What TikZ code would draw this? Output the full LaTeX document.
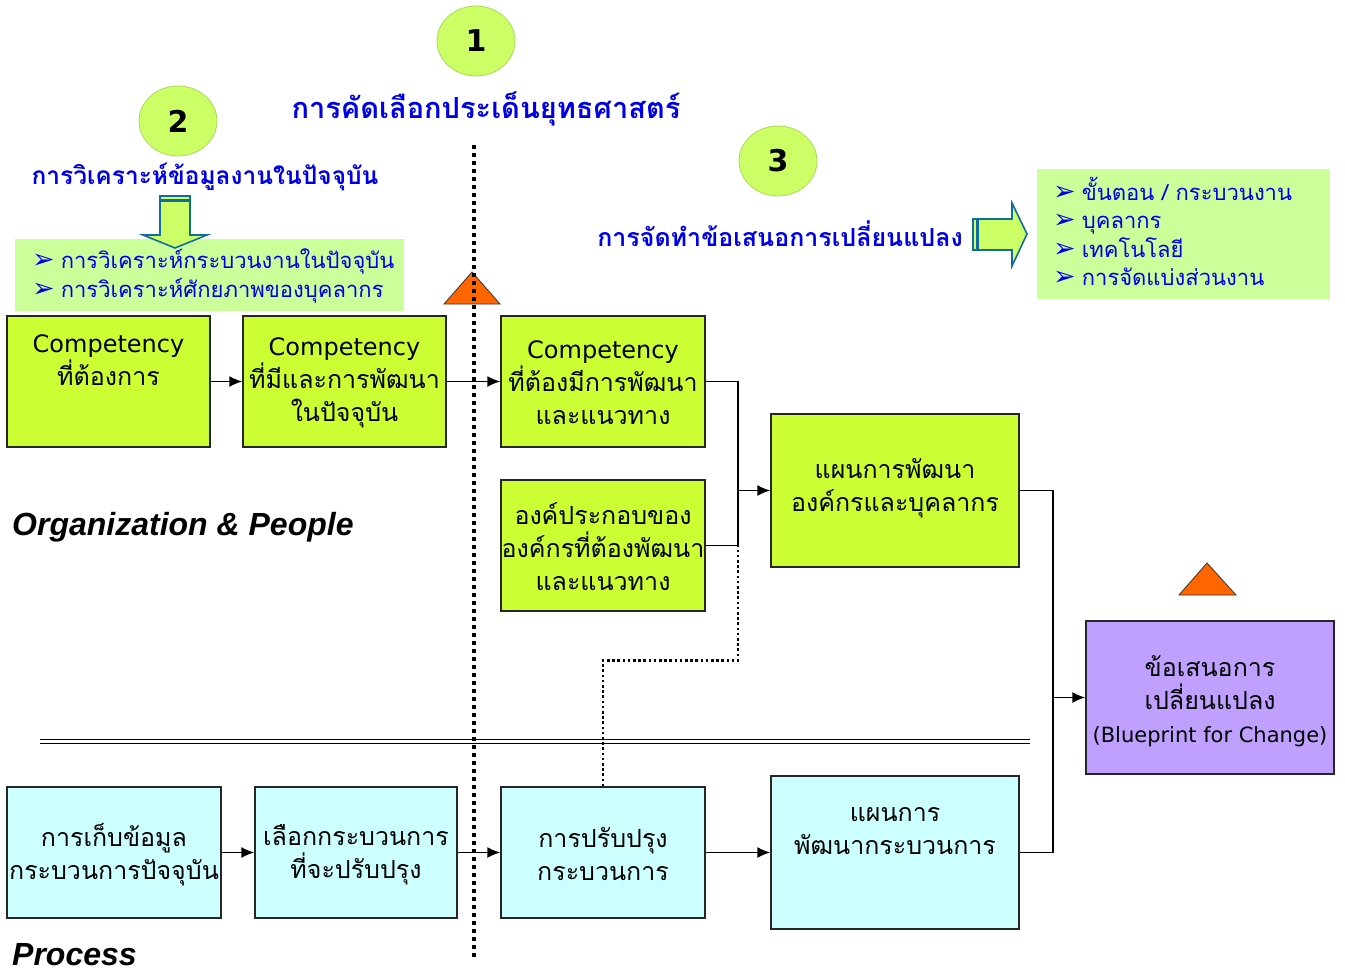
\documentclass[tikz,border=0pt]{standalone}
\usepackage{fontspec}
\usetikzlibrary{arrows.meta,shapes.geometric}
\setmainfont{DejaVu Sans}
\newfontfamily\thai[Script=Thai]{Loma}
\newfontfamily\dv{DejaVu Sans}
\newfontfamily\lib{Liberation Sans}
\definecolor{boxgreen}{HTML}{CCFF33}
\definecolor{lightgreen}{HTML}{CCFF99}
\definecolor{circgreen}{HTML}{CCFF66}
\definecolor{boxcyan}{HTML}{CCFFFF}
\definecolor{boxpurple}{HTML}{BFA0FF}
\definecolor{titleblue}{HTML}{0000E6}
\definecolor{arrowedge}{HTML}{0F6E9E}
\definecolor{triorange}{HTML}{FF6600}
\newcommand{\bul}{{\dv\fontsize{27}{27}\selectfont ➢}\hspace{6pt}}
\begin{document}
\begin{tikzpicture}[x=1pt,y=-1pt,
  stagebox/.style={draw=black!85, line width=1.4pt, inner sep=0pt},
  gbox/.style={stagebox, fill=boxgreen},
  cbox/.style={stagebox, fill=boxcyan},
  pbox/.style={stagebox, fill=boxpurple},
  lbox/.style={fill=lightgreen, inner sep=0pt},
  btext/.style={align=center, inner sep=0pt, font=\thai\fontsize{25}{33}\selectfont},
  num/.style={ellipse, fill=circgreen, draw=circgreen!85!black, line width=0.8pt,
    minimum width=78pt, minimum height=70pt, inner sep=0pt,
    font=\dv\bfseries\fontsize{30}{30}\selectfont},
  ttl/.style={inner sep=0pt, text=titleblue, font=\thai\bfseries\fontsize{25}{25}\selectfont},
  item/.style={anchor=base west, inner sep=0pt, text=titleblue, font=\thai\fontsize{22}{22}\selectfont},
  lbl/.style={anchor=west, inner sep=0pt, font=\lib\bfseries\itshape\fontsize{32}{32}\selectfont},
  link/.style={line width=1.6pt, draw=black},
  arr/.style={link, -{Latex[length=13pt,width=11pt]}},
  dotlink/.style={line width=2.6pt, dash pattern=on 2.6pt off 2.6pt},
  divider/.style={line width=4pt, dash pattern=on 4pt off 4pt},
  tri/.style={fill=triorange, draw=black!80, line width=0.8pt},
  blockarrow/.style={fill=circgreen, draw=arrowedge, line width=1.6pt, line join=miter}
]
\useasboundingbox (0,0) rectangle (1345,972);

% ---- numbered steps and their headings ----
\node[num] (n1) at (476,41) {1};
\node[num] (n2) at (178,121) {2};
\node[num] (n3) at (778,161) {3};

\node[ttl, font=\thai\bfseries\fontsize{29}{29}\selectfont] (t1) at (486,109) {การคัดเลือกประเด็นยุทธศาสตร์};
\node[ttl, font=\thai\bfseries\fontsize{24.5}{25}\selectfont] (t2) at (205,177) {การวิเคราะห์ข้อมูลงานในปัจจุบัน};
\node[ttl] (t3) at (780,234) {การจัดทำข้อเสนอการเปลี่ยนแปลง};

% ---- step 2: current analysis ----
\node[lbox, minimum width=389pt, minimum height=72pt] (L2) at (209.5,275) {};
\node[item] (i21) at (32,268) {\bul การวิเคราะห์กระบวนงานในปัจจุบัน};
\node[item] (i22) at (32,297) {\bul การวิเคราะห์ศักยภาพของบุคลากร};

% down block arrow
\draw[blockarrow] (160,196) -- (190,196) -- (190,235) -- (207,235) -- (175,248)
  -- (143,235) -- (160,235) -- cycle;
\draw[arrowedge, line width=2.5pt] (160,200.5) -- (190,200.5);

% ---- step 3: change proposal ----
\node[lbox, minimum width=293pt, minimum height=130pt] (L3) at (1183.5,234) {};
\node[item] (i31) at (1053,200) {\bul ขั้นตอน / กระบวนงาน};
\node[item] (i32) at (1053,228) {\bul บุคลากร};
\node[item] (i33) at (1053,257) {\bul เทคโนโลยี};
\node[item] (i34) at (1053,285) {\bul การจัดแบ่งส่วนงาน};

% right block arrow
\draw[blockarrow] (973,219) -- (1012,219) -- (1012,203) -- (1027,234) -- (1012,266)
  -- (1012,250) -- (973,250) -- cycle;
\draw[arrowedge, line width=3pt] (977,219) -- (977,250);

% ---- markers ----
\draw[tri] (472,272) -- (500,304) -- (444,304) -- cycle;
\draw[tri] (1207,563) -- (1236,595) -- (1179,595) -- cycle;

% ---- section rule ----
\draw[line width=1.5pt] (40,739.5) -- (1030,739.5);
\draw[line width=1.5pt] (40,743.5) -- (1030,743.5);

% ---- organization & people boxes ----
\node[gbox, minimum width=203pt, minimum height=131pt] (A) at (108.5,381.5) {};
\node[gbox, minimum width=203pt, minimum height=131pt] (B) at (344.5,381.5) {};
\node[gbox, minimum width=204pt, minimum height=131pt] (C) at (603,381.5) {};
\node[gbox, minimum width=204pt, minimum height=131pt] (D) at (603,545.5) {};
\node[gbox, minimum width=248pt, minimum height=153pt] (E) at (895,490.5) {};
\node[pbox, minimum width=248pt, minimum height=153pt] (F) at (1210,697.5) {};

\node[btext] (At) at (108.5,360) {{\dv\fontsize{24}{33}\selectfont Competency}\\ที่ต้องการ};
\node[btext] (Bt) at (344.5,383) {{\dv\fontsize{24}{33}\selectfont Competency}\\ที่มีและการพัฒนา\\ในปัจจุบัน};
\node[btext] (Ct) at (603,383) {{\dv\fontsize{24}{33}\selectfont Competency}\\ที่ต้องมีการพัฒนา\\และแนวทาง};
\node[btext] (Dt) at (603,547) {องค์ประกอบของ\\องค์กรที่ต้องพัฒนา\\และแนวทาง};
\node[btext] (Et) at (895,488) {แผนการพัฒนา\\องค์กรและบุคลากร};
\node[btext] (Ft) at (1210,701) {ข้อเสนอการ\\เปลี่ยนแปลง\\{\dv\fontsize{21}{31}\selectfont (Blueprint for Change)}};

% ---- process boxes ----
\node[cbox, minimum width=214pt, minimum height=131pt] (G) at (114,852.5) {};
\node[cbox, minimum width=202pt, minimum height=131pt] (H) at (356,852.5) {};
\node[cbox, minimum width=204pt, minimum height=131pt] (I) at (603,852.5) {};
\node[cbox, minimum width=248pt, minimum height=153pt] (J) at (895,852.5) {};

\node[btext] (Gt) at (114,854.5) {การเก็บข้อมูล\\กระบวนการปัจจุบัน};
\node[btext] (Ht) at (356,854.5) {เลือกกระบวนการ\\ที่จะปรับปรุง};
\node[btext] (It) at (603,854.5) {การปรับปรุง\\กระบวนการ};
\node[btext] (Jt) at (895,831.5) {แผนการ\\พัฒนากระบวนการ};

% ---- section labels ----
\node[lbl] (org) at (12,527) {Organization \& People};
\node[lbl] (proc) at (12,955) {Process};

% ---- connectors ----
\coordinate (j1) at (738,490.5);
\coordinate (j2) at (1053,697.5);
\coordinate (d1) at (738,545.5);

\draw[arr] (A.east) -- (B.west);
\draw[arr] (B.east) -- (C.west);
\draw[link] (C.east) -| (j1);
\draw[link] (D.east) -| (j1);
\draw[arr] (j1) -- (E.west);
\draw[link] (E.east) -| (j2);
\draw[link] (J.east) -| (j2);
\draw[arr] (j2) -- (F.west);

\draw[arr] (G.east) -- (H.west);
\draw[arr] (H.east) -- (I.west);
\draw[arr] (I.east) -- (J.west);

\draw[dotlink] (I.north) -- ++(0,-126) -| (d1);

% ---- strategic divider ----
\coordinate (vtop) at (474,145);
\coordinate (vbot) at (474,960);
\draw[divider] (vtop) -- (vbot);
\end{tikzpicture}
\end{document}
